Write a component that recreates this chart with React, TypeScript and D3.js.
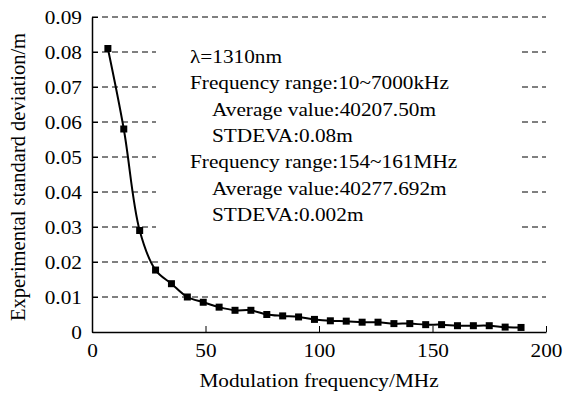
import React, { useEffect, useRef } from 'react';
import * as d3 from 'd3';

// modulation frequency (MHz) and experimental standard deviation (m)
const frequencies = [7, 14, 21, 28, 35, 42, 49, 56, 63, 70, 77, 84, 91, 98, 105, 112, 119, 126, 133, 140, 147, 154, 161, 168, 175, 182, 189];
const deviations = [0.081, 0.058, 0.029, 0.0177, 0.0138, 0.01, 0.0085, 0.0071, 0.0062, 0.0062, 0.005, 0.0046, 0.0043, 0.0036, 0.0032, 0.0031, 0.0028, 0.0028, 0.0024, 0.0024, 0.0021, 0.0021, 0.0018, 0.0018, 0.0018, 0.0014, 0.0013];

const xTicks = [0, 50, 100, 150, 200];
const yTicks = [0, 0.01, 0.02, 0.03, 0.04, 0.05, 0.06, 0.07, 0.08, 0.09];

const noteLines = [
  { text: 'λ=1310nm', indent: false },
  { text: 'Frequency range:10~7000kHz', indent: false },
  { text: 'Average value:40207.50m', indent: true },
  { text: 'STDEVA:0.08m', indent: true },
  { text: 'Frequency range:154~161MHz', indent: false },
  { text: 'Average value:40277.692m', indent: true },
  { text: 'STDEVA:0.002m', indent: true },
];

const App: React.FC = () => {
  const ref = useRef<SVGSVGElement | null>(null);

  useEffect(() => {
    const svg = d3.select(ref.current);
    svg.selectAll('*').remove();

    const font = '"Liberation Serif", "Times New Roman", serif';
    const sx = 1.12; // the original's lettering is a bit wide
    const x = d3.scaleLinear().domain([0, 200]).range([92, 546]);
    const y = d3.scaleLinear().domain([0, 0.09]).range([332, 17]);

    // dashed gridlines
    svg.append('g')
      .selectAll('line')
      .data(yTicks.filter(t => t > 0))
      .enter().append('line')
      .attr('x1', x(0))
      .attr('x2', x(200))
      .attr('y1', d => y(d))
      .attr('y2', d => y(d))
      .attr('stroke', '#000')
      .attr('stroke-width', 1)
      .attr('stroke-dasharray', '6,4');

    // white note box hides the middle of the gridlines
    svg.append('rect')
      .attr('x', 156)
      .attr('y', 38)
      .attr('width', 364)
      .attr('height', 203)
      .attr('fill', '#fff');

    noteLines.forEach((l, i) => {
      svg.append('text')
        .attr('transform', `translate(${l.indent ? 212 : 190},${63 + i * 26.3}) scale(${sx},1)`)
        .style('font-family', font)
        .style('font-size', '19px')
        .text(l.text);
    });

    // axes
    const xAxis = svg.append('g').attr('transform', `translate(0,${y(0)})`)
      .call(d3.axisBottom(x).tickValues(xTicks).tickSize(-6).tickPadding(12).tickSizeOuter(0));
    xAxis.select('.domain').attr('stroke-width', 1.5);
    xAxis.selectAll('text')
      .attr('transform', `scale(${sx},1)`)
      .style('font-family', font).style('font-size', '19px').attr('fill', '#000');

    const yAxis = svg.append('g').attr('transform', `translate(${x(0)},0)`)
      .call(d3.axisLeft(y).tickValues(yTicks).tickSize(-6).tickPadding(9).tickSizeOuter(0)
        .tickFormat(d => (d as number) === 0 ? '0' : d3.format('.2f')(d as number)));
    yAxis.select('.domain').attr('stroke-width', 1.5);
    yAxis.selectAll('text')
      .attr('transform', `scale(${sx},1)`)
      .style('font-family', font).style('font-size', '19px').attr('fill', '#000');

    // curve
    const pts = frequencies.map((f, i) => [f, deviations[i]] as [number, number]);
    svg.append('path')
      .datum(pts)
      .attr('fill', 'none')
      .attr('stroke', '#000')
      .attr('stroke-width', 2)
      .attr('d', d3.line<[number, number]>()
        .x(d => x(d[0]))
        .y(d => y(d[1]))
        .curve(d3.curveCatmullRom.alpha(0.5)));

    svg.selectAll('.pt')
      .data(pts)
      .enter().append('rect')
      .attr('class', 'pt')
      .attr('x', d => x(d[0]) - 3.5)
      .attr('y', d => y(d[1]) - 3.5)
      .attr('width', 7)
      .attr('height', 7)
      .attr('fill', '#000');

    // axis titles
    svg.append('text')
      .attr('transform', `translate(${(x(0) + x(200)) / 2},387) scale(${sx},1)`)
      .attr('text-anchor', 'middle')
      .style('font-family', font)
      .style('font-size', '19px')
      .text('Modulation frequency/MHz');

    svg.append('text')
      .attr('transform', 'translate(25,177) rotate(-90)')
      .attr('text-anchor', 'middle')
      .style('font-family', font)
      .style('font-size', '20.5px')
      .text('Experimental standard deviation/m');
  }, []);

  return (
    <svg ref={ref} width={569} height={393}
      style={{ position: 'absolute', left: 0, top: 0, background: '#fff' }} />
  );
};

export default App;
